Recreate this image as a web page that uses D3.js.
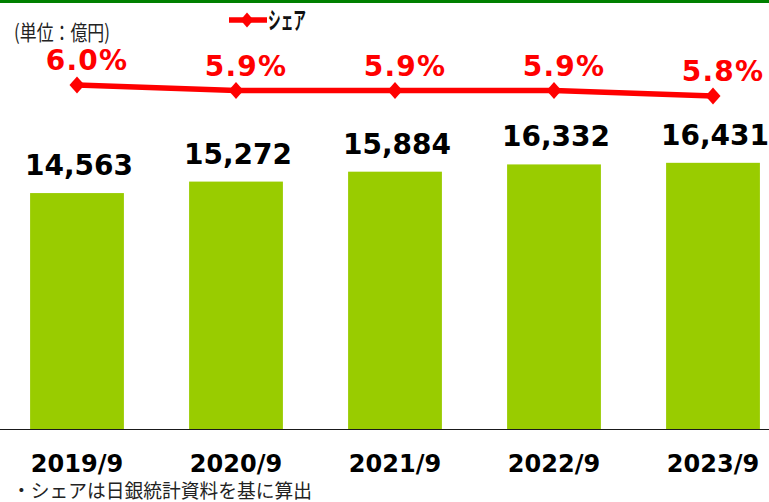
<!DOCTYPE html>
<html><head><meta charset="utf-8">
<script src="https://cdn.jsdelivr.net/npm/d3@7"></script>
<style>html,body{margin:0;padding:0;background:#fff;}svg{display:block;}</style>
</head><body>
<svg id="chart" width="769" height="502"></svg>
<script>
const categories = ["2019/9", "2020/9", "2021/9", "2022/9", "2023/9"];
const amounts = [14563, 15272, 15884, 16332, 16431];
const shares = [6.0, 5.9, 5.9, 5.9, 5.8];
const legendLabel = "シェア";
const unitLabel = "(単位：億円)";
const footnote = "・シェアは日銀統計資料を基に算出";

const svg = d3.select("#chart");
const W = 769, H = 502;
const baseY = 429;

const x = d3.scaleBand().domain(categories).range([-2.5, 792.5]).paddingInner(0.41).paddingOuter(0.205);
const y = d3.scaleLinear().domain([0, 20000]).range([baseY, 105]);
const y2 = d3.scaleLinear().domain([5.0, 6.0]).range([140, 85]);

// top green rule
svg.append("rect").attr("x", 0).attr("y", 0).attr("width", W).attr("height", 3).attr("fill", "#008000");

// bars
svg.selectAll("rect.bar").data(amounts).join("rect").attr("class", "bar")
  .attr("x", (d, i) => x(categories[i]))
  .attr("y", d => y(d))
  .attr("width", x.bandwidth())
  .attr("height", d => y(0) - y(d))
  .attr("fill", "#99cc00");

// baseline axis
const xAxis = d3.axisBottom(x).tickSize(0).tickPadding(0).tickFormat("");
const ax = svg.append("g").attr("transform", `translate(0,${baseY})`).call(xAxis);
ax.select(".domain").remove();
svg.append("line").attr("x1", 0).attr("x2", W).attr("y1", baseY + 0.5).attr("y2", baseY + 0.5)
  .attr("stroke", "#1a1a1a").attr("stroke-width", 1.2);

// x labels
svg.selectAll("text.xl").data(categories).join("text").attr("class", "xl")
  .attr("x", d => x(d) + x.bandwidth() / 2)
  .attr("y", 472)
  .attr("text-anchor", "middle")
  .attr("font-family", "DejaVu Sans, Verdana, sans-serif")
  .attr("font-weight", "bold").attr("font-size", 24).attr("fill", "#000")
  .text(d => d);

// value labels
svg.selectAll("text.vl").data(amounts).join("text").attr("class", "vl")
  .attr("x", (d, i) => x(categories[i]) + x.bandwidth() / 2 + 2)
  .attr("y", d => y(d) - 18)
  .attr("text-anchor", "middle")
  .attr("font-family", "DejaVu Sans, Verdana, sans-serif")
  .attr("font-weight", "bold").attr("font-size", 28).attr("fill", "#000")
  .text(d => d3.format(",")(d));

// share line
const cx = i => x(categories[i]) + x.bandwidth() / 2;
const line = d3.line().x((d, i) => cx(i)).y(d => y2(d));
svg.append("path").datum(shares).attr("d", line)
  .attr("fill", "none").attr("stroke", "#ff0000").attr("stroke-width", 5.5);

const diamond = (w, h) => `M0,${-h}L${w},0L0,${h}L${-w},0Z`;
svg.selectAll("path.mk").data(shares).join("path").attr("class", "mk")
  .attr("transform", (d, i) => `translate(${cx(i)},${y2(d)})`)
  .attr("d", diamond(7.5, 8.5)).attr("fill", "#ff0000");

svg.selectAll("text.pl").data(shares).join("text").attr("class", "pl")
  .attr("x", (d, i) => cx(i) + 10)
  .attr("y", d => y2(d) - 15)
  .attr("text-anchor", "middle")
  .attr("font-family", "DejaVu Sans, Verdana, sans-serif")
  .attr("font-weight", "bold").attr("font-size", 28).attr("fill", "#ff0000")
  .attr("letter-spacing", 1.2)
  .text(d => d3.format(".1f")(d) + "%");

// legend
const lg = svg.append("g");
lg.append("line").attr("x1", 229).attr("x2", 267).attr("y1", 20).attr("y2", 20)
  .attr("stroke", "#ff0000").attr("stroke-width", 5.5);
lg.append("path").attr("transform", "translate(247,20)").attr("d", diamond(6.5, 7.5)).attr("fill", "#ff0000");
lg.append("text").attr("x", 268).attr("y", 29)
  .attr("font-family", "Noto Sans CJK JP, sans-serif").attr("font-weight", "bold")
  .attr("font-size", 24).attr("fill", "#111")
  .attr("textLength", 38).attr("lengthAdjust", "spacingAndGlyphs")
  .text(legendLabel);

// unit label
svg.append("text").attr("x", 14).attr("y", 40)
  .attr("font-family", "Noto Sans CJK JP, sans-serif")
  .attr("font-size", 21).attr("fill", "#222")
  .attr("textLength", 96).attr("lengthAdjust", "spacingAndGlyphs")
  .text(unitLabel);

// footnote
svg.append("text").attr("x", 12).attr("y", 498)
  .attr("font-family", "Noto Sans CJK JP, sans-serif")
  .attr("font-size", 19).attr("fill", "#222")
  .attr("textLength", 300).attr("lengthAdjust", "spacingAndGlyphs")
  .text(footnote);
</script>
</body></html>
